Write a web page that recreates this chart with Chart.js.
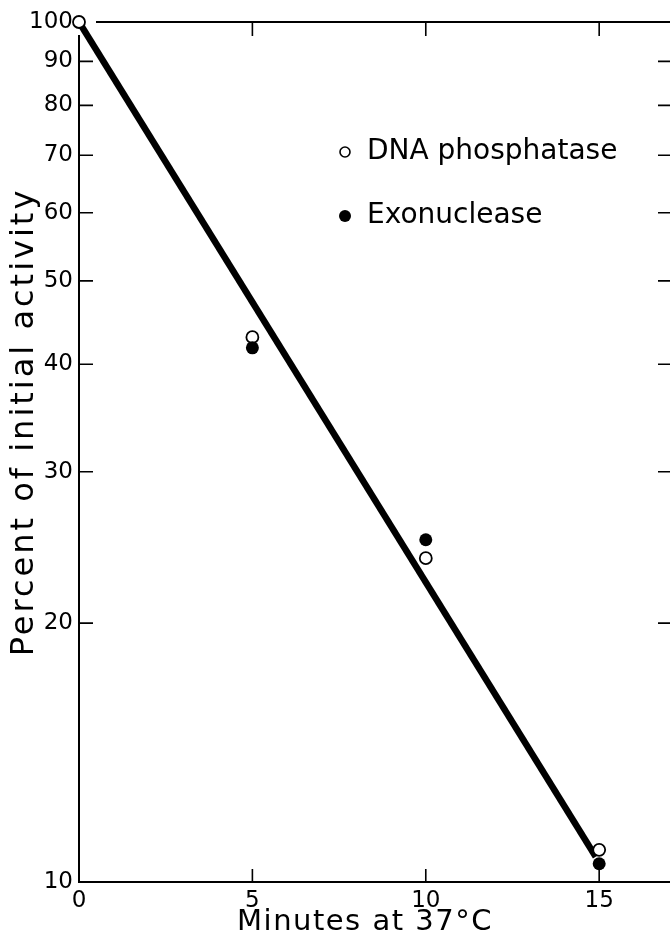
<!DOCTYPE html>
<html>
<head>
<meta charset="utf-8">
<script src="https://cdn.jsdelivr.net/npm/chart.js@4.4.1/dist/chart.umd.min.js"></script>
<style>
  html, body { margin: 0; padding: 0; background: #fff; overflow: hidden; }
  #wrap { width: 680px; height: 941px; }
</style>
</head>
<body>
<div id="wrap"><canvas id="chart" width="680" height="941"></canvas></div>
<script>
// Data
const minutes = [0, 5, 10, 15];
const phosphatase = [100, 43.0, 23.8, 10.9];
const exonuclease = [null, 41.8, 25.0, 10.5];
const fitMinutes = [0, 14.9];
const fitValues = [100, 10.7];
const xTicks = [0, 5, 10, 15];
const yTicks = [10, 20, 30, 40, 50, 60, 70, 80, 90, 100];

const FONT = '"DejaVu Sans", "Noto Sans", sans-serif';

function toPoints(xs, ys) {
    return xs.map((x, i) => ({ x: x, y: ys[i] })).filter(p => p.y !== null);
}

// Frame with inward ticks on all four sides
const framePlugin = {
    id: 'frame',
    afterDraw(chart) {
        const ctx = chart.ctx;
        const a = chart.chartArea;
        const xs = chart.scales.x;
        const ys = chart.scales.y;
        ctx.save();
        ctx.strokeStyle = '#000';
        ctx.lineWidth = 2;
        ctx.beginPath();
        // left, bottom, top (gaps near the 100 marker)
        ctx.moveTo(a.left, a.top + 13);
        ctx.lineTo(a.left, a.bottom);
        ctx.lineTo(a.right, a.bottom);
        ctx.moveTo(a.left + 17, a.top);
        ctx.lineTo(a.right, a.top);
        ctx.moveTo(a.right, a.top);
        ctx.lineTo(a.right, a.bottom);
        ctx.stroke();

        ctx.lineWidth = 1.6;
        ctx.beginPath();
        yTicks.slice(1, -1).forEach(v => {
            const py = ys.getPixelForValue(v);
            ctx.moveTo(a.left, py);
            ctx.lineTo(a.left + 14, py);
            ctx.moveTo(a.right, py);
            ctx.lineTo(a.right - 14, py);
        });
        xTicks.slice(1).forEach(v => {
            const px = xs.getPixelForValue(v);
            ctx.moveTo(px, a.bottom);
            ctx.lineTo(px, a.bottom - 13);
            ctx.moveTo(px, a.top);
            ctx.lineTo(px, a.top + 14);
        });
        ctx.stroke();
        ctx.restore();
    }
};

// Axis titles and the inset legend
const textPlugin = {
    id: 'texts',
    afterDraw(chart) {
        const ctx = chart.ctx;
        ctx.save();
        ctx.fillStyle = '#000';
        ctx.textBaseline = 'middle';

        ctx.font = '29px ' + FONT;
        ctx.letterSpacing = '1.5px';
        ctx.textAlign = 'center';
        ctx.fillText('Minutes at 37°C', 365, 922);

        ctx.save();
        ctx.translate(25, 422);
        ctx.rotate(-Math.PI / 2);
        ctx.font = '32px ' + FONT;
        ctx.letterSpacing = '3px';
        ctx.fillText('Percent of initial activity', 0, 0);
        ctx.restore();

        ctx.letterSpacing = '0px';
        ctx.textAlign = 'left';
        ctx.font = '28px ' + FONT;
        ctx.fillText('DNA phosphatase', 367, 152);
        ctx.fillText('Exonuclease', 367, 216);

        ctx.lineWidth = 1.6;
        ctx.beginPath();
        ctx.arc(345, 152, 5, 0, Math.PI * 2);
        ctx.stroke();
        ctx.beginPath();
        ctx.arc(345, 216, 6, 0, Math.PI * 2);
        ctx.fill();
        ctx.restore();
    }
};

new Chart(document.getElementById('chart'), {
    type: 'scatter',
    data: {
        datasets: [
            {
                label: 'DNA phosphatase',
                data: toPoints(minutes, phosphatase),
                showLine: false,
                pointRadius: 6,
                pointBorderWidth: 1.8,
                pointBackgroundColor: '#fff',
                pointBorderColor: '#000',
                clip: false,
                order: 1
            },
            {
                label: 'Exonuclease',
                data: toPoints(minutes, exonuclease),
                showLine: false,
                pointRadius: 6.5,
                pointBorderWidth: 0,
                pointBackgroundColor: '#000',
                pointBorderColor: '#000',
                clip: false,
                order: 0
            },
            {
                label: 'Fit',
                data: toPoints(fitMinutes, fitValues),
                showLine: true,
                borderColor: '#000',
                borderWidth: 6.5,
                pointRadius: 0,
                clip: false,
                order: 2
            }
        ]
    },
    options: {
        responsive: false,
        animation: false,
        layout: { padding: { top: 22, left: 0, right: 8, bottom: 0 } },
        plugins: {
            legend: { display: false },
            tooltip: { enabled: false }
        },
        scales: {
            x: {
                type: 'linear',
                min: 0,
                max: 17.1,
                grid: { display: false, drawTicks: false },
                border: { display: false },
                afterBuildTicks: s => { s.ticks = xTicks.map(v => ({ value: v })); },
                afterFit: s => { s.height = 59; },
                ticks: {
                    color: '#000',
                    padding: 5,
                    maxRotation: 0,
                    font: { family: FONT, size: 23 }
                }
            },
            y: {
                type: 'logarithmic',
                min: 10,
                max: 100,
                grid: { display: false, drawTicks: false },
                border: { display: false },
                afterBuildTicks: s => { s.ticks = yTicks.map(v => ({ value: v })); },
                afterFit: s => { s.width = 79; },
                ticks: {
                    color: '#000',
                    padding: 6,
                    font: { family: FONT, size: 23 },
                    callback: v => String(v)
                }
            }
        }
    },
    plugins: [framePlugin, textPlugin]
});
</script>
</body>
</html>
